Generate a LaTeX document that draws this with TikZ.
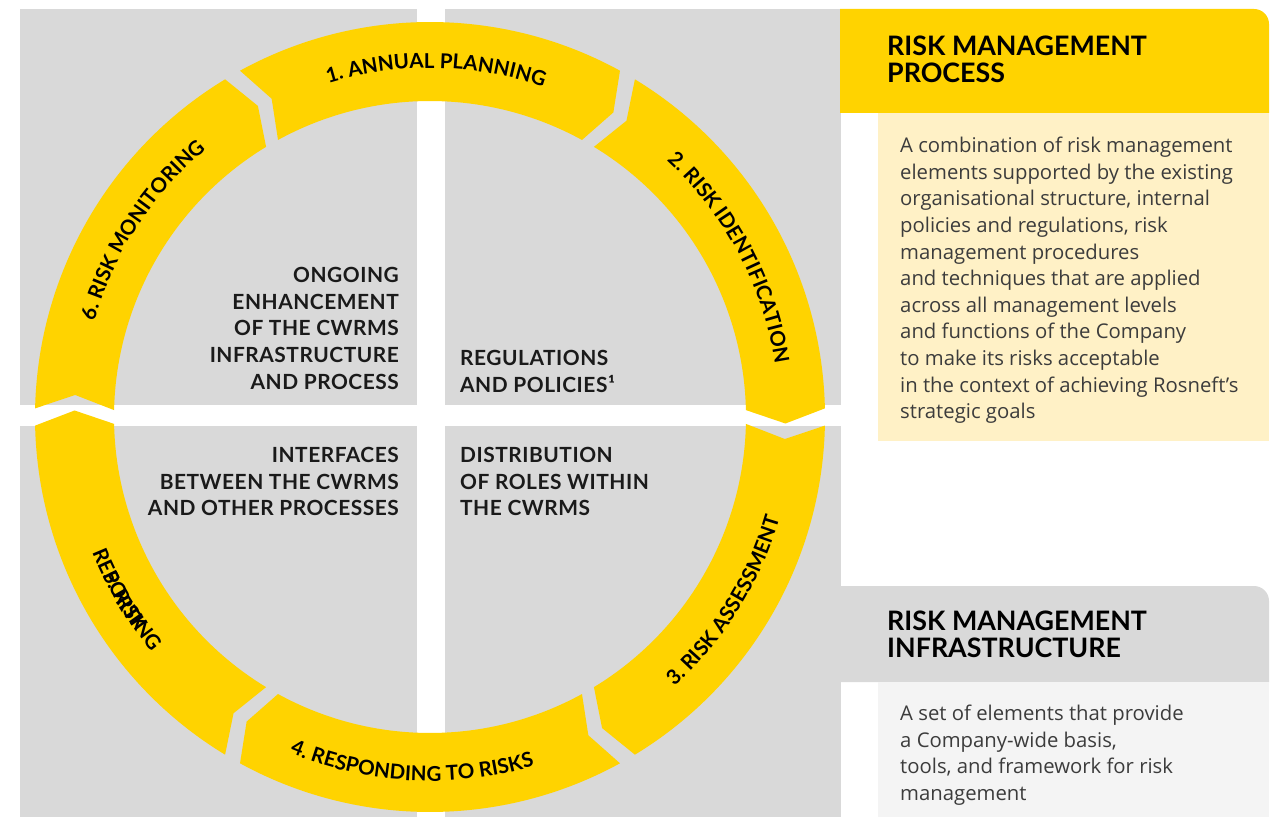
\documentclass[tikz,border=0pt]{standalone}
\usepackage{fontspec}
\setmainfont{Open Sans}
\newfontfamily\lato{Lato}
\newfontfamily\latowide[LetterSpace=2.5]{Lato}
\usepackage{tikz}
\usetikzlibrary{math, decorations.text}

\definecolor{rnyellow}{HTML}{FFD300}
\definecolor{rngray}{HTML}{D9D9D9}
\definecolor{rnpaleyellow}{HTML}{FFF1C6}
\definecolor{rnpalegray}{HTML}{F4F4F4}
\definecolor{rntext}{HTML}{1A1A1A}
\definecolor{rnbody}{HTML}{3C3C3C}

\newcommand\ringfont{\lato\bfseries\fontsize{20.5}{24}\selectfont}

\tikzset{
  quadtext/.style={font=\latowide\bfseries\fontsize{20.9}{26.7}\selectfont, text=rntext, inner sep=0pt},
  headtext/.style={font=\lato\bfseries\fontsize{26.8}{27}\selectfont, text=black, inner sep=0pt, align=left},
  bodytext/.style={font=\fontsize{20.3}{26.6}\selectfont, text=rnbody, inner sep=0pt, align=left},
}

\begin{document}
\begin{tikzpicture}[x=1pt, y=1pt]
        \useasboundingbox (0,0) rectangle (1284,817);

        %背景の四つの区画
        \fill[rngray] (20,412) rectangle (417,808);
        \fill[rngray] (445,412) rectangle (841,808);
        \fill[rngray] (20,0) rectangle (417,391);
        \fill[rngray] (445,0) rectangle (841,391);

        %リング(6つの矢印)
        \begin{scope}[shift={(430,400)}]
        \foreach \c in {90,30,-30,-90,-150,150} {
            \pgfmathsetmacro\s{\c+30-1.25}
            \pgfmathsetmacro\e{\c-30+1.25}
            \fill[rnyellow] (\s:395) arc[start angle=\s, end angle=\e, radius=395]
                -- (\e-2.3:355.5) -- (\e:316) arc[start angle=\e, end angle=\s, radius=316]
                -- (\s-2.3:355.5) -- cycle;
        }

        %リングの文字
        \path[decorate, decoration={text along path, text align=center,
            text={|\ringfont|1. ANNUAL PLANNING}}] (124:349) arc[start angle=124, end angle=54, radius=349];
        \path[decorate, decoration={text along path, text align=center,
            text={|\ringfont|2. RISK IDENTIFICATION}}] (63:349) arc[start angle=63, end angle=-7, radius=349];
        \path[decorate, decoration={text along path, text align=center,
            text={|\ringfont|3. RISK ASSESSMENT}}] (-67:364) arc[start angle=-67, end angle=3, radius=364];
        \path[decorate, decoration={text along path, text align=center,
            text={|\ringfont|4. RESPONDING TO RISKS}}] (-128:364) arc[start angle=-128, end angle=-58, radius=364];
        \path[decorate, decoration={text along path, text align=center,
            text={|\ringfont|REPORTING}}] (176:364) arc[start angle=176, end angle=246, radius=364];
        \path[decorate, decoration={text along path, text align=center,
            text={|\ringfont|5. RISK}}] (176:364) arc[start angle=176, end angle=246, radius=364];
        \path[decorate, decoration={text along path, text align=center,
            text={|\ringfont|6. RISK MONITORING}}] (182:349) arc[start angle=182, end angle=112, radius=349];
        \end{scope}

        %区画の文字
        \node[quadtext, align=right, anchor=north east] (ongoing) at (399,550)
            {ONGOING\\ENHANCEMENT\\OF THE CWRMS\\INFRASTRUCTURE\\AND PROCESS};
        \node[quadtext, align=left, anchor=north west] (regulations) at (460,467)
            {REGULATIONS\\AND POLICIES¹};
        \node[quadtext, align=right, anchor=north east] (interfaces) at (399,370)
            {INTERFACES\\BETWEEN THE CWRMS\\AND OTHER PROCESSES};
        \node[quadtext, align=left, anchor=north west] (roles) at (460,370)
            {DISTRIBUTION\\OF ROLES WITHIN\\THE CWRMS};

        %右側のパネル
        \fill[rnyellow] (840,704) -- (840,808) -- (1254,808) arc[start angle=90, end angle=0, radius=15] -- (1269,704) -- cycle;
        \fill[rnpaleyellow] (878,376) rectangle (1269,704);
        \fill[rngray] (840,135) -- (840,231) -- (1254,231) arc[start angle=90, end angle=0, radius=15] -- (1269,135) -- cycle;
        \fill[rnpalegray] (878,0) rectangle (1269,135);

        \node[headtext, anchor=north west] (processhead) at (887,781) {RISK MANAGEMENT\\PROCESS};
        \node[bodytext, anchor=north west] (processbody) at (900,680)
            {A combination of risk management\\
             elements supported by the existing\\
             organisational structure, internal\\
             policies and regulations, risk\\
             management procedures\\
             and techniques that are applied\\
             across all management levels\\
             and functions of the Company\\
             to make its risks acceptable\\
             in the context of achieving Rosneft’s\\
             strategic goals};

        \node[headtext, anchor=north west] (infrahead) at (887,206) {RISK MANAGEMENT\\INFRASTRUCTURE};
        \node[bodytext, anchor=north west] (infrabody) at (900,112)
            {A set of elements that provide\\
             a Company-wide basis,\\
             tools, and framework for risk\\
             management};
    \end{tikzpicture}
\end{document}
